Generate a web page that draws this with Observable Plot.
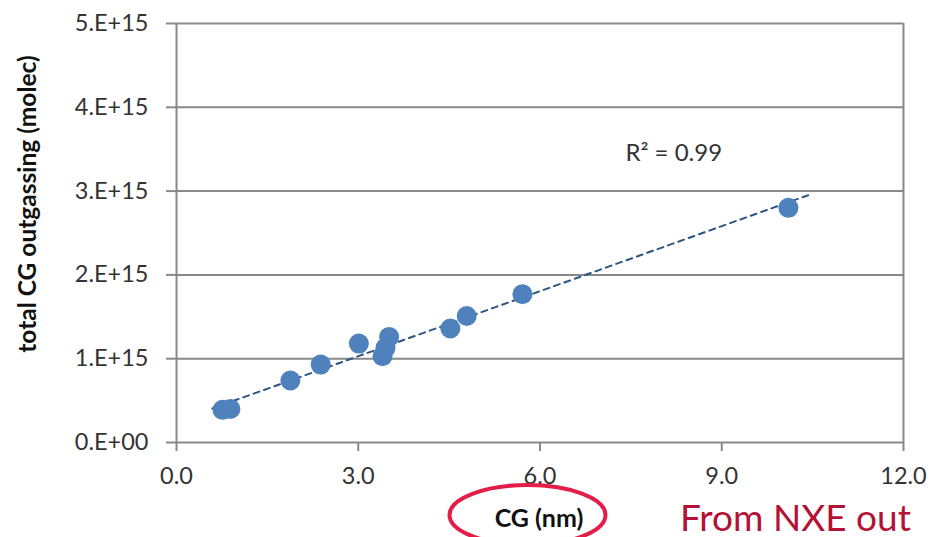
<!DOCTYPE html>
<html>
<head>
<meta charset="utf-8">
<script src="https://cdn.jsdelivr.net/npm/d3@7"></script>
<script src="https://cdn.jsdelivr.net/npm/@observablehq/plot@0.6"></script>
<style>
  html, body { margin: 0; padding: 0; background: #fff; }
  #chart { width: 932px; height: 537px; overflow: hidden; }
</style>
</head>
<body>
<div id="chart"></div>
<script>
// ---- data ----
const cgNm = [0.76, 0.89, 1.88, 2.38, 3.01, 3.40, 3.45, 3.51, 4.52, 4.79, 5.71, 10.1];
const outgassing = [0.39e15, 0.40e15, 0.74e15, 0.93e15, 1.18e15, 1.03e15, 1.13e15, 1.26e15, 1.36e15, 1.51e15, 1.77e15, 2.80e15];
const trendX = [0.59, 10.5];
const trendY = [0.406e15, 2.97e15];
const xTicks = [0, 3, 6, 9, 12];
const yTicks = [0, 1e15, 2e15, 3e15, 4e15, 5e15];
const xLabel = "CG (nm)";
const yLabel = "total CG outgassing (molec)";
const r2Label = "R\u00B2 = 0.99";
const noteLabel = "From NXE out";

const points = cgNm.map((x, i) => ({x, y: outgassing[i]}));
const trend = trendX.map((x, i) => ({x, y: trendY[i]}));

const fmtExp = d => {
  if (d === 0) return "0.E+00";
  const e = Math.floor(Math.log10(d));
  const m = Math.round(d / Math.pow(10, e));
  return `${m}.E+${String(e).padStart(2, "0")}`;
};

const gridColor = "#898989";
const textColor = "#333333";

const plot = Plot.plot({
  width: 932,
  height: 537,
  marginLeft: 176,
  marginRight: 29,
  marginTop: 23,
  marginBottom: 95,
  style: {fontFamily: "Lato, 'Open Sans', sans-serif", background: "#fff"},
  x: {domain: [0, 12]},
  y: {domain: [0, 5e15]},
  marks: [
    Plot.ruleY(yTicks, {stroke: gridColor, strokeWidth: 2}),
    Plot.ruleX([0, 12], {stroke: gridColor, strokeWidth: 2}),
    Plot.axisY({ticks: yTicks, tickSize: 10, tickPadding: 18, tickFormat: fmtExp,
      stroke: gridColor, strokeWidth: 2, fill: textColor, fontSize: 23.5, label: null}),
    Plot.axisX({ticks: xTicks, tickSize: 9, tickPadding: 16, tickFormat: d3.format(".1f"),
      stroke: gridColor, strokeWidth: 2, fill: textColor, fontSize: 23.5, label: null}),
    Plot.line(trend, {x: "x", y: "y", stroke: "#2f5582", strokeWidth: 2, strokeDasharray: "6,5"}),
    Plot.dot(points, {x: "x", y: "y", r: 10, fill: "#4f81bd", stroke: "none"}),
    Plot.text([r2Label], {x: 7.41, y: 3.45e15, text: d => d, textAnchor: "start",
      fontSize: 24, fill: textColor}),
    Plot.text([yLabel], {frameAnchor: "left", dx: -148, dy: -29, rotate: -90, text: d => d,
      textAnchor: "middle", lineAnchor: "middle",
      fontSize: 24.5, fontWeight: "bold", fill: "#111"}),
    Plot.text([xLabel], {frameAnchor: "bottom", dx: -1, dy: 84, text: d => d,
      textAnchor: "middle", fontSize: 25, fontWeight: "bold", fill: "#111", lineAnchor: "bottom"})
  ]
});

const svg = d3.select(plot);
// red ellipse annotation around the x-axis label
svg.append("ellipse")
  .attr("cx", 527.5).attr("cy", 515)
  .attr("rx", 78).attr("ry", 30)
  .attr("fill", "none")
  .attr("stroke", "#e31c48")
  .attr("stroke-width", 4);

// slide note text
svg.append("text")
  .attr("x", 680).attr("y", 531)
  .attr("text-anchor", "start")
  .attr("font-family", "Lato, 'Open Sans', sans-serif")
  .attr("font-size", 37)
  .attr("fill", "#b31236")
  .text(noteLabel);

document.getElementById("chart").appendChild(plot);
</script>
</body>
</html>
